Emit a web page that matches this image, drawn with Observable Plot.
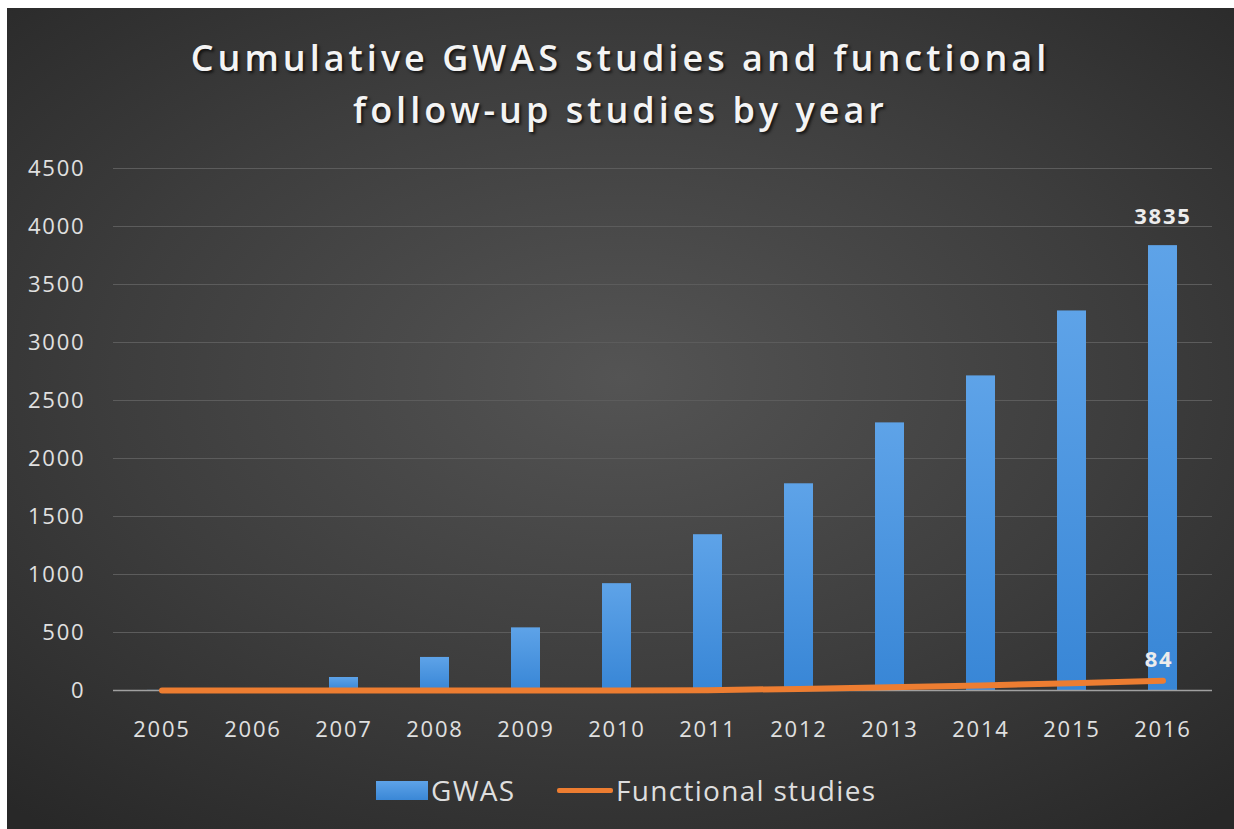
<!DOCTYPE html>
<html>
<head>
<meta charset="utf-8">
<script src="https://cdn.jsdelivr.net/npm/d3@7"></script>
<script src="https://cdn.jsdelivr.net/npm/@observablehq/plot@0.6"></script>
<style>
  html, body { margin: 0; padding: 0; background: #ffffff; }
  #chart {
    position: absolute; left: 7px; top: 8px; width: 1227px; height: 821px; overflow: hidden;
    background: radial-gradient(ellipse 75% 70% at 50% 45%, #545454 0%, #3d3d3d 55%, #282828 100%);
    font-family: "Open Sans", sans-serif;
  }
  #title {
    box-sizing: border-box; height: 142px; padding-top: 24px; text-align: center;
    color: #f4f4f4; font-size: 36px; font-weight: 600; letter-spacing: 4px; line-height: 52px;
    text-shadow: 2px 2px 3px rgba(0,0,0,0.7);
  }
  #plot svg text { letter-spacing: 1.8px; }
  #legend {
    position: relative; height: 69px; color: #dedede; font-size: 28px; letter-spacing: 1.3px;
  }
  #legend .item { position: absolute; top: 0; height: 60px; display: flex; align-items: center; }
  #legend .sw-bar { width: 52px; height: 19px; background: linear-gradient(#5ea3e8, #3a87d6); margin-right: 3px; }
  #legend .sw-line { width: 56px; height: 5px; background: #ed7d31; border-radius: 2px; margin-right: 3px; }
</style>
</head>
<body>
<div id="chart">
  <div id="title">Cumulative GWAS studies and functional<br>follow-up studies by year</div>
  <div id="plot"></div>
  <div id="legend">
    <div class="item" style="left:369px"><span class="sw-bar"></span><span>GWAS</span></div>
    <div class="item" style="left:550px"><span class="sw-line"></span><span>Functional studies</span></div>
  </div>
</div>
<script>
const years = ["2005","2006","2007","2008","2009","2010","2011","2012","2013","2014","2015","2016"];
const gwas = [1, 10, 112, 285, 540, 921, 1343, 1782, 2307, 2712, 3272, 3835];
const functional = [0, 0, 0, 0, 0, 0, 3, 14, 28, 44, 62, 84];
const yTicks = [0, 500, 1000, 1500, 2000, 2500, 3000, 3500, 4000, 4500];

const rows = years.map((year, i) => ({year, gwas: gwas[i], functional: functional[i]}));
const last = [rows[rows.length - 1]];

const defs = () => {
  const d = d3.create("svg:defs");
  const g = d.append("linearGradient").attr("id", "barGrad")
    .attr("x1", 0).attr("y1", 0).attr("x2", 0).attr("y2", 1);
  g.append("stop").attr("offset", "0%").attr("stop-color", "#5ea3e8");
  g.append("stop").attr("offset", "100%").attr("stop-color", "#3886d6");
  return d.node();
};

const chart = Plot.plot({
  width: 1227, height: 610,
  marginLeft: 106, marginRight: 22, marginTop: 18, marginBottom: 70,
  style: {background: "transparent", color: "#e0e0e0", fontFamily: "Open Sans, sans-serif", fontSize: "22px", overflow: "visible"},
  x: {type: "band", domain: years, paddingInner: 0.68, paddingOuter: 0.34, label: null, tickSize: 0, tickPadding: 31},
  y: {domain: [0, 4500], ticks: yTicks, label: null, tickSize: 0, tickPadding: 28, tickFormat: d => String(d)},
  marks: [
    defs,
    Plot.ruleY(yTicks.slice(1), {stroke: "#5c5c5c", strokeWidth: 1}),
    Plot.barY(rows, {x: "year", y: "gwas", fill: "url(#barGrad)"}),
    Plot.ruleY([0], {stroke: "#a0a0a0", strokeWidth: 1.5}),
    Plot.line(rows, {x: "year", y: "functional", stroke: "#ed7d31", strokeWidth: 6, strokeLinecap: "round", strokeLinejoin: "round"}),
    Plot.text(last, {x: "year", y: "gwas", text: d => String(d.gwas), dy: -29, fontWeight: "bold", fontSize: 22, fill: "#ececec"}),
    Plot.text(last, {x: "year", y: "functional", text: d => String(d.functional), dy: -21, dx: -4, fontWeight: "bold", fontSize: 22, fill: "#ececec"})
  ]
});
document.getElementById("plot").appendChild(chart);
</script>
</body>
</html>
